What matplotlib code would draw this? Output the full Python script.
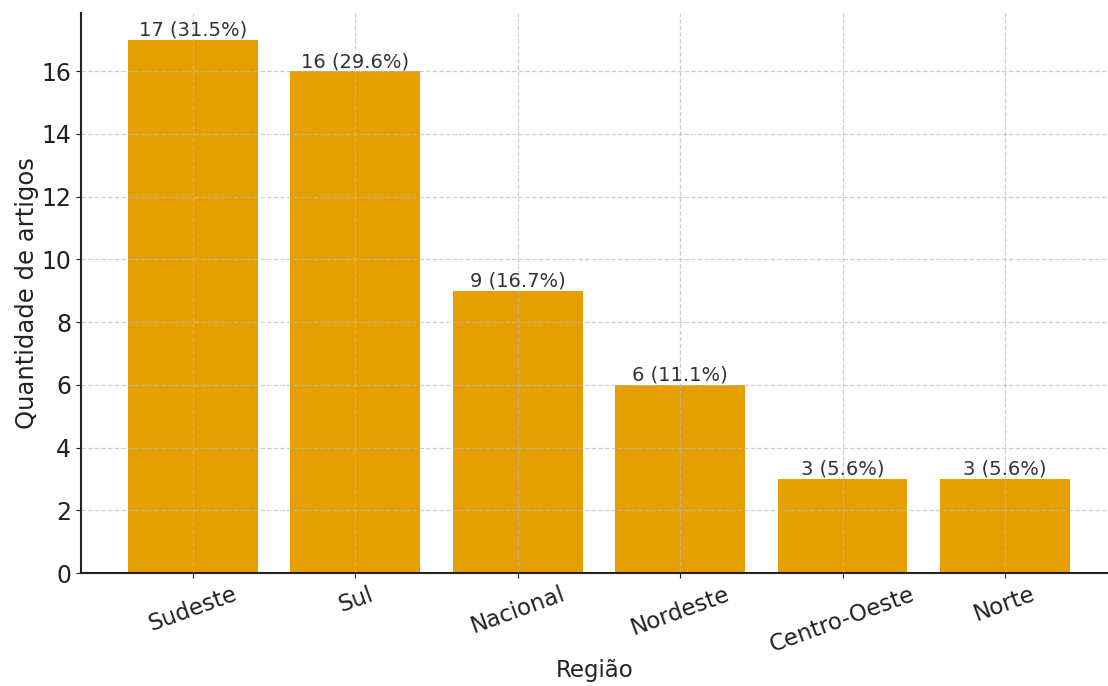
import matplotlib
matplotlib.use("Agg")
import matplotlib.pyplot as plt

regions = ["Sudeste", "Sul", "Nacional", "Nordeste", "Centro-Oeste", "Norte"]
counts = [17, 16, 9, 6, 3, 3]
percents = [31.5, 29.6, 16.7, 11.1, 5.6, 5.6]

fig = plt.figure(figsize=(11.08, 6.86), dpi=100)
ax = fig.add_axes([0.0731, 0.1647, 0.9269, 0.8163])

x = list(range(len(regions)))
bars = ax.bar(x, counts, width=0.8, color="#E69F00", zorder=2)
for xi, c, p in zip(x, counts, percents):
    ax.text(xi, c, f"{c} ({p}%)", ha="center", va="bottom", fontsize=14, color="#333333", zorder=4)

ax.set_xticks(x)
ax.set_xticklabels(regions, rotation=20, fontsize=16.5, color="#222222")
ax.set_yticks(range(0, 17, 2))
ax.tick_params(axis="y", labelsize=17, colors="#222222")
ax.tick_params(axis="x", colors="#222222", pad=3.5)
ax.set_xlim(-0.69, 5.635)
ax.set_ylim(0, 17.85)
ax.grid(True, linestyle="--", color="#bbbbbb", alpha=0.7, linewidth=0.9, zorder=3)
ax.set_axisbelow(False)
for s in ["top", "right"]:
    ax.spines[s].set_visible(False)
for s in ["left", "bottom"]:
    ax.spines[s].set_color("#222222")
    ax.spines[s].set_linewidth(1.5)
    ax.spines[s].set_zorder(5)
ax.set_xlabel("Região", fontsize=16.5, color="#222222", labelpad=2)
ax.set_ylabel("Quantidade de artigos", fontsize=17.5, color="#222222", labelpad=2)

fig.savefig("out.png", dpi=100)
